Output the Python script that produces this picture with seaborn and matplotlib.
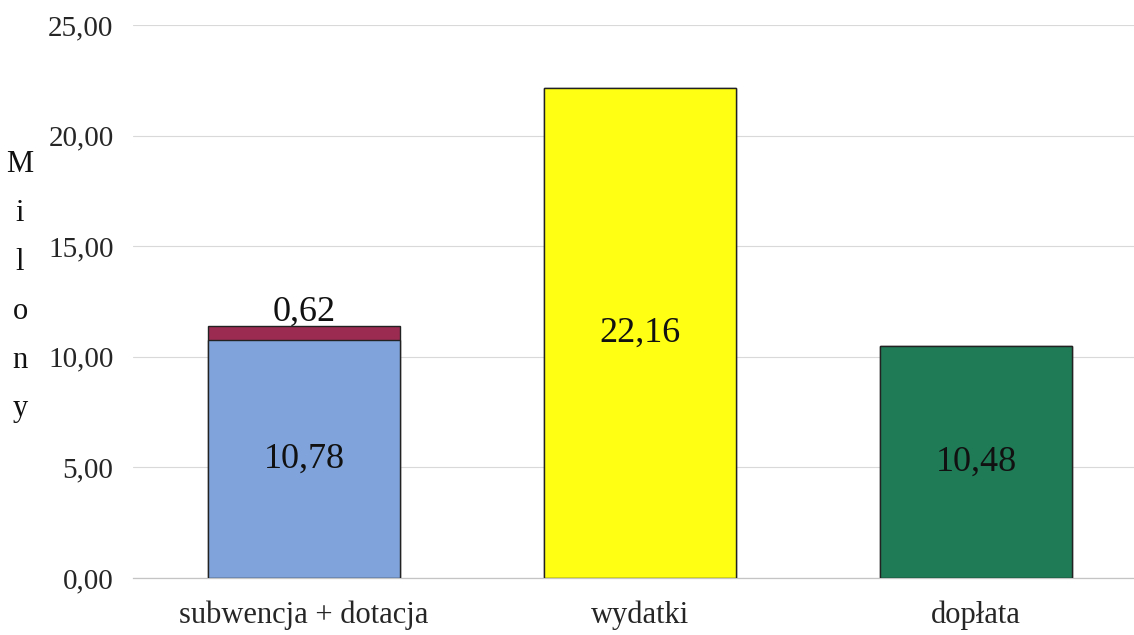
import matplotlib
matplotlib.use("Agg")
import matplotlib.pyplot as plt
import seaborn as sns
import pandas as pd

categories = ["subwencja + dotacja", "wydatki", "dopłata"]
base_values = [10.78, 22.16, 10.48]
top_values = [0.62, 0.0, 0.0]
base_labels = ["10,78", "22,16", "10,48"]
top_labels = ["0,62", "", ""]
yticks = [0, 5, 10, 15, 20, 25]
ytick_labels = ["0,00", "5,00", "10,00", "15,00", "20,00", "25,00"]
ylabel = "Milony"

base_colors = ["#7fa3da", "#ffff14", "#1f7a56"]
top_color = "#9c2b52"

sns.set_theme(style="white")
plt.rcParams["font.family"] = ["Liberation Serif", "DejaVu Serif"]

fig = plt.figure(figsize=(11.34, 6.35), dpi=100)
ax = fig.add_axes([133 / 1134, 57 / 635, 1 - 133 / 1134, 553 / 635])

totals = [b + t for b, t in zip(base_values, top_values)]
df_tot = pd.DataFrame({"cat": categories, "val": totals})
df_base = pd.DataFrame({"cat": categories, "val": base_values})

sns.barplot(data=df_tot, x="cat", y="val", color=top_color, width=0.57,
            saturation=1, edgecolor="#222222", linewidth=1.0, ax=ax, zorder=2)
sns.barplot(data=df_base, x="cat", y="val", hue="cat", palette=base_colors,
            width=0.57, saturation=1, edgecolor="#222222", linewidth=1.0, ax=ax,
            legend=False, zorder=3)

for i, (b, lab) in enumerate(zip(base_values, base_labels)):
    ax.text(i, b / 2, lab, ha="center", va="center", fontsize=26,
            color="#111111", zorder=5)
for i, (tot, lab) in enumerate(zip(totals, top_labels)):
    if lab:
        ax.text(i, tot - 0.15, lab, ha="center", va="bottom", fontsize=26,
                color="#111111", zorder=5)

ax.set_ylim(0, 25)
ax.set_xlim(-0.509, 2.47)
ax.set_yticks(yticks)
ax.set_yticklabels(ytick_labels, fontsize=21)
ax.tick_params(axis="x", labelsize=22, length=0, pad=16)
ax.tick_params(axis="y", length=0, pad=14)
ax.set_xlabel("")
ax.set_ylabel("")
ax.yaxis.grid(True, color="#d9d9d9", linewidth=0.8)
ax.set_axisbelow(True)
for s in ["top", "right", "left"]:
    ax.spines[s].set_visible(False)
ax.spines["bottom"].set_color("#c4c4c4")
ax.spines["bottom"].set_linewidth(0.9)

fig.text(20 / 1134, 1 - 287 / 635, "\n".join(ylabel), ha="center", va="center",
         fontsize=22, linespacing=1.9, color="#111111")

fig.savefig("out.png", dpi=100)
